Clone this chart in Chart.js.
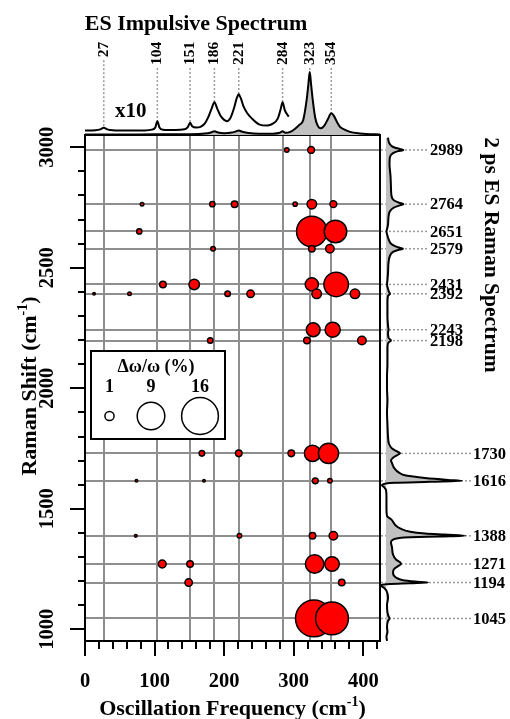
<!DOCTYPE html>
<html>
<head>
<meta charset="utf-8">
<script src="https://cdn.jsdelivr.net/npm/chart.js@4.4.1/dist/chart.umd.min.js"></script>
<style>
  html, body { margin: 0; padding: 0; background: #fff; }
  #wrap { position: relative; width: 510px; height: 719px; overflow: hidden; }
  #wrap canvas { position: absolute; left: 0; top: 0; }
</style>
</head>
<body>
<div id="wrap">
  <canvas id="mainCanvas" width="510" height="719"></canvas>
  <canvas id="topCanvas" width="510" height="719"></canvas>
  <canvas id="sideCanvas" width="510" height="719"></canvas>
</div>
<script>
// ---- band positions (cm-1) ----
const impulsivePeaks = [27, 104, 151, 186, 221, 284, 323, 354];
const ramanPeaks = [2989, 2764, 2651, 2579, 2431, 2392, 2243, 2198, 1730, 1616, 1388, 1271, 1194, 1045];

// ---- labelled axis values ----
const xTickValues = [0, 100, 200, 300, 400];
const yTickValues = [1000, 1500, 2000, 2500, 3000];

// ---- coupling map: Raman shift, oscillation frequency, modulation depth Δω/ω (%) ----
const bubbleShift = [
  2989, 2989,
  2764, 2764, 2764, 2764, 2764, 2764,
  2651, 2651, 2651,
  2579, 2579, 2579,
  2431, 2431, 2431, 2431,
  2392, 2392, 2392, 2392, 2392, 2392,
  2243, 2243,
  2198, 2198, 2198,
  1730, 1730, 1730, 1730, 1730,
  1616, 1616, 1616, 1616,
  1388, 1388, 1388, 1388,
  1271, 1271, 1271, 1271,
  1194, 1194,
  1045, 1045
];
const bubbleFreq = [
  290, 325,
  82, 183, 215, 302, 326, 357,
  78, 326, 360,
  184, 326, 352,
  112, 157, 326, 361,
  13, 64, 205, 238, 333, 388,
  328, 356,
  180, 319, 398,
  168, 221, 296.5, 327, 350,
  74, 171, 331, 352,
  73, 222, 327, 357,
  111, 151, 330, 355,
  149, 369,
  329, 355
];
const bubblePct = [
  0.24, 0.55,
  0.15, 0.32, 0.5, 0.21, 1.07, 0.55,
  0.32, 11.0, 6.0,
  0.24, 0.5, 0.85,
  0.5, 1.3, 2.05, 7.1,
  0.074, 0.15, 0.36, 0.66, 1.07, 1.07,
  2.25, 2.7,
  0.36, 0.5, 0.85,
  0.36, 0.5, 0.5, 3.1, 4.8,
  0.074, 0.074, 0.4, 0.24,
  0.09, 0.24, 0.5, 0.85,
  0.72, 0.5, 4.0, 2.5,
  0.66, 0.5,
  16.0, 12.7
];
const legendPct = [1, 9, 16];

// ---- ES impulsive spectrum (amplitude, arb. units) ----
const impFreq = [0, 50, 100, 150, 172, 181, 186, 191, 200, 211, 217, 221, 226, 235, 250, 270, 280, 284, 288,
  295, 302, 308, 313.7, 318.6, 321, 323, 325, 327.3, 330.6, 334, 338.7, 344, 349, 354, 358, 362, 366.5,
  373, 381, 395, 405, 424];
const impAmp = [0.008, 0.008, 0.01, 0.012, 0.022, 0.04, 0.06, 0.04, 0.028, 0.038, 0.058, 0.07, 0.052, 0.03, 0.018, 0.02, 0.035, 0.06, 0.035,
  0.05, 0.1, 0.16, 0.24, 0.56, 0.8, 1.0, 0.8, 0.56, 0.29, 0.16, 0.106, 0.15, 0.25, 0.345, 0.3, 0.21, 0.13,
  0.085, 0.05, 0.025, 0.016, 0.008];
// low-frequency part magnified x10 (displayed with its own offset baseline)
const impX10Freq = [0, 15, 22, 27, 32, 40, 60, 85, 96, 101, 104, 107, 112, 130, 143, 148, 151, 154, 160, 166,
  172, 177, 182, 186, 190, 195, 200, 204, 209, 214, 218, 221, 224, 228, 233, 240, 250, 262, 270, 277, 281,
  284, 287, 292.7];
const impX10Amp = [0.07, 0.075, 0.09, 0.115, 0.09, 0.075, 0.07, 0.072, 0.085, 0.12, 0.22, 0.12, 0.085, 0.08, 0.09, 0.13, 0.195, 0.14, 0.12, 0.13,
  0.18, 0.28, 0.42, 0.52, 0.42, 0.3, 0.24, 0.22, 0.27, 0.42, 0.58, 0.645, 0.58, 0.45, 0.35, 0.26, 0.17, 0.15, 0.18, 0.26, 0.4,
  0.52, 0.4, 0.29];

// ---- 2 ps ES Raman spectrum (intensity, arb. units) ----
const ramanShift = [952, 970, 990, 1010, 1035, 1045, 1055, 1070, 1100, 1130, 1160, 1172, 1180, 1185, 1188, 1191, 1194,
  1198, 1205, 1215, 1235, 1250, 1262, 1271, 1278, 1290, 1310, 1340, 1360, 1372, 1378, 1382, 1385, 1388, 1393,
  1398, 1405, 1419, 1430, 1455, 1470, 1500, 1550, 1578, 1590, 1598, 1604, 1608, 1612, 1616, 1620, 1628, 1638,
  1650, 1670, 1690, 1700, 1712, 1722, 1730, 1740, 1750, 1770, 1800, 1850, 1900, 1950, 2000, 2050, 2100, 2170,
  2190, 2198, 2210, 2230, 2243, 2260, 2300, 2360, 2384, 2392, 2400, 2420, 2431, 2450, 2480, 2520, 2550, 2566,
  2574, 2579, 2584, 2590, 2600, 2620, 2640, 2651, 2660, 2680, 2710, 2735, 2750, 2758, 2764, 2770, 2780, 2800,
  2830, 2880, 2930, 2960, 2976, 2984, 2989, 2994, 3000, 3008, 3020, 3040];
const ramanAmp = [0.013, 0.006, 0.019, 0.013, 0.026, 0.045, 0.032, 0.019, 0.013, 0.026, 0.006, -0.026, -0.058, -0.051, 0.051, 0.31, 0.538,
  0.372, 0.205, 0.128, 0.09, 0.103, 0.154, 0.192, 0.18, 0.128, 0.09, 0.077, 0.064, 0.09, 0.154, 0.31, 0.69, 1.013, 0.756,
  0.5, 0.31, 0.18, 0.128, 0.07, 0.013, 0.006, 0.006, 0.0, -0.026, -0.051, -0.013, 0.115, 0.564, 0.974, 0.795, 0.5, 0.256,
  0.167, 0.103, 0.077, 0.064, 0.09, 0.141, 0.18, 0.128, 0.077, 0.038, 0.026, 0.019, 0.013, 0.019, 0.013, 0.013, 0.019, 0.019,
  0.032, 0.064, 0.032, 0.026, 0.032, 0.026, 0.019, 0.019, 0.026, 0.051, 0.038, 0.019, 0.013, 0.019, 0.026, 0.032, 0.051, 0.09,
  0.154, 0.218, 0.167, 0.115, 0.064, 0.032, 0.013, 0.006, 0.013, 0.026, 0.032, 0.051, 0.10, 0.167, 0.224, 0.167, 0.10, 0.07,
  0.064, 0.058, 0.045, 0.051, 0.09, 0.154, 0.224, 0.167, 0.10, 0.064, 0.038, 0.026];

// ---- layout & style ----
const FONT = '"Liberation Serif", "Times New Roman", serif';
const X_MIN = 0, X_MAX = 424;
const Y_MIN = 951.5, Y_MAX = 3051;
const X_MAJOR = 100, X_MINOR = 20, Y_MAJOR = 500, Y_MINOR = 100;
const GRID = '#8e8e8e';
const DOTS = '#9a9a9a';
const FILL = '#c0c0c0';
const bubbleRadius = p => 4.6 * Math.sqrt(p);

function font(size) { return 'bold ' + size + 'px ' + FONT; }

// text made of runs with different sizes / vertical rise (for superscripts)
function drawRich(ctx, parts, cx, cy, angle) {
  ctx.save();
  ctx.translate(cx, cy);
  ctx.rotate(angle);
  ctx.textAlign = 'left';
  ctx.textBaseline = 'alphabetic';
  ctx.fillStyle = '#000';
  const widths = parts.map(([t, size]) => { ctx.font = font(size); return ctx.measureText(t).width; });
  let x = -widths.reduce((a, b) => a + b, 0) / 2;
  parts.forEach(([t, size, rise], i) => {
    ctx.font = font(size);
    ctx.fillText(t, x, rise);
    x += widths[i];
  });
  ctx.restore();
}

function ampAt(freqs, amps, v) {
  const i = freqs.indexOf(v);
  return i >= 0 ? amps[i] : null;
}

// frame, tick marks, titles, size legend and Raman band labels of the main panel
const mainDecor = {
  id: 'mainDecor',
  afterDatasetsDraw(chart) {
    const { ctx, chartArea: a, scales: { x, y } } = chart;
    ctx.save();

    // band labels on the right with dotted leaders
    ctx.font = font(16.5);
    ctx.textAlign = 'left';
    ctx.textBaseline = 'middle';
    ramanPeaks.forEach(v => {
      const py = y.getPixelForValue(v);
      const col = v > 2000 ? a.right + 50 : a.right + 93;
      ctx.strokeStyle = DOTS;
      ctx.lineWidth = 1.5;
      ctx.setLineDash([2, 2]);
      ctx.beginPath();
      ctx.moveTo(a.right + 1, py);
      ctx.lineTo(col - 2, py);
      ctx.stroke();
      ctx.setLineDash([]);
      ctx.fillStyle = '#000';
      ctx.fillText(String(v), col, py + 1);
    });

    // bubble size legend
    const L = { x: a.left + 6, y: a.top + 216, w: 134, h: 88 };
    ctx.fillStyle = '#fff';
    ctx.fillRect(L.x, L.y, L.w, L.h);
    ctx.strokeStyle = '#000';
    ctx.lineWidth = 2;
    ctx.strokeRect(L.x, L.y, L.w, L.h);
    drawRich(ctx, [['Δω/ω (%)', 18, 0]], L.x + 65, L.y + 21, 0);
    const cols = [L.x + 18.5, L.x + 60, L.x + 109];
    ctx.font = font(18);
    ctx.textAlign = 'center';
    ctx.textBaseline = 'alphabetic';
    ctx.fillStyle = '#000';
    legendPct.forEach((p, i) => {
      ctx.fillText(String(p), cols[i], L.y + 40.5);
      ctx.beginPath();
      ctx.arc(cols[i], L.y + 65, bubbleRadius(p), 0, Math.PI * 2);
      ctx.fillStyle = '#fff';
      ctx.fill();
      ctx.lineWidth = 1.5;
      ctx.strokeStyle = '#000';
      ctx.stroke();
      ctx.fillStyle = '#000';
    });

    // frame
    ctx.strokeStyle = '#000';
    ctx.lineWidth = 2;
    ctx.strokeRect(a.left, a.top, a.right - a.left, a.bottom - a.top);

    // tick marks (long at labelled values)
    ctx.beginPath();
    for (let v = Math.ceil(Y_MIN / Y_MINOR) * Y_MINOR; v <= Y_MAX; v += Y_MINOR) {
      const py = Math.round(y.getPixelForValue(v));
      const len = v % Y_MAJOR === 0 ? 15 : 7;
      ctx.moveTo(a.left - len, py);
      ctx.lineTo(a.left, py);
    }
    for (let v = X_MIN; v <= X_MAX; v += X_MINOR) {
      const px = Math.round(x.getPixelForValue(v));
      const len = v % X_MAJOR === 0 ? 15 : 8;
      ctx.moveTo(px, a.bottom);
      ctx.lineTo(px, a.bottom + len);
    }
    ctx.stroke();

    // axis and panel titles
    drawRich(ctx, [['Oscillation Frequency (cm', 22, 0], ['-1', 14, -9], [')', 22, 0]],
      (a.left + a.right) / 2, 715, 0);
    drawRich(ctx, [['Raman Shift (cm', 22, 0], ['-1', 14, -9], [')', 22, 0]],
      35.5, (a.top + a.bottom) / 2 - 2, -Math.PI / 2);
    drawRich(ctx, [['ES Impulsive Spectrum', 22, 0]], 196, 29.5, 0);
    drawRich(ctx, [['2 ps ES Raman Spectrum', 21.5, 0]], 485, 255, Math.PI / 2);

    ctx.restore();
  }
};

// peak labels, leaders and magnification note of the impulsive spectrum
const LABEL_TOP = 41.7;
const topDecor = {
  id: 'topDecor',
  beforeDatasetsDraw(chart) {
    const { ctx, scales: { x, y } } = chart;
    ctx.save();
    ctx.font = font(15.5);
    ctx.strokeStyle = DOTS;
    ctx.lineWidth = 1.5;
    ctx.setLineDash([2, 2]);
    const lastX10 = impX10Freq[impX10Freq.length - 1];
    impulsivePeaks.forEach(v => {
      const px = x.getPixelForValue(v);
      const w = ctx.measureText(String(v)).width;
      const amp = v <= lastX10 ? ampAt(impX10Freq, impX10Amp, v) : ampAt(impFreq, impAmp, v);
      const y1 = LABEL_TOP + w + 3;
      const y2 = y.getPixelForValue(amp);
      if (y2 > y1) {
        ctx.beginPath();
        ctx.moveTo(px, y1);
        ctx.lineTo(px, y2);
        ctx.stroke();
      }
    });
    ctx.restore();
  },
  afterDatasetsDraw(chart) {
    const { ctx, scales: { x } } = chart;
    ctx.save();
    ctx.fillStyle = '#000';
    ctx.font = font(15.5);
    ctx.textAlign = 'right';
    ctx.textBaseline = 'middle';
    impulsivePeaks.forEach(v => {
      ctx.save();
      ctx.translate(x.getPixelForValue(v), LABEL_TOP);
      ctx.rotate(-Math.PI / 2);
      ctx.fillText(String(v), 0, 0);
      ctx.restore();
    });
    ctx.font = font(21);
    ctx.textAlign = 'left';
    ctx.textBaseline = 'alphabetic';
    ctx.fillText('x10', 115, 117);
    ctx.restore();
  }
};

const quiet = { legend: { display: false }, tooltip: { enabled: false } };
const tickFont = { family: FONT, size: 20.5, weight: 'bold' };

function build() {
  Chart.defaults.font.family = FONT;
  Chart.defaults.color = '#000';

  // main coupling map
  new Chart(document.getElementById('mainCanvas'), {
    type: 'bubble',
    data: {
      datasets: [{
        data: bubbleFreq.map((f, i) => ({ x: f, y: bubbleShift[i], r: bubbleRadius(bubblePct[i]) })),
        backgroundColor: '#ff0000',
        borderColor: '#000',
        borderWidth: 1.5,
        clip: false
      }]
    },
    options: {
      responsive: false,
      animation: false,
      events: [],
      layout: { autoPadding: false, padding: { left: 0, top: 135, right: 130, bottom: 0 } },
      plugins: quiet,
      scales: {
        x: {
          type: 'linear', position: 'bottom', min: X_MIN, max: X_MAX,
          afterBuildTicks: s => { s.ticks = xTickValues.map(v => ({ value: v })); },
          ticks: { color: '#000', font: tickFont, padding: 13, minRotation: 0, maxRotation: 0,
                   autoSkip: false, callback: v => String(v) },
          grid: { display: false, drawTicks: true, tickLength: 15 },
          border: { display: false },
          afterFit: s => { s.height = 78; }
        },
        y: {
          type: 'linear', position: 'left', min: Y_MIN, max: Y_MAX,
          afterBuildTicks: s => { s.ticks = yTickValues.map(v => ({ value: v })); },
          ticks: { color: '#000', font: tickFont, padding: 2, minRotation: 90, maxRotation: 90,
                   crossAlign: 'center', autoSkip: false, callback: v => String(v) },
          grid: { display: false, drawTicks: true, tickLength: 15 },
          border: { display: false },
          afterFit: s => { s.width = 85; }
        },
        xg: {
          type: 'linear', position: 'bottom', min: X_MIN, max: X_MAX,
          afterBuildTicks: s => { s.ticks = impulsivePeaks.map(v => ({ value: v })); },
          ticks: { display: false },
          grid: { color: GRID, lineWidth: 2, drawTicks: false },
          border: { display: false },
          afterFit: s => { s.height = 0; }
        },
        yg: {
          type: 'linear', position: 'left', min: Y_MIN, max: Y_MAX,
          afterBuildTicks: s => { s.ticks = ramanPeaks.map(v => ({ value: v })); },
          ticks: { display: false },
          grid: { color: GRID, lineWidth: 2, drawTicks: false },
          border: { display: false },
          afterFit: s => { s.width = 0; }
        }
      }
    },
    plugins: [mainDecor]
  });

  // impulsive spectrum above the map
  new Chart(document.getElementById('topCanvas'), {
    type: 'line',
    data: {
      datasets: [
        {
          data: impX10Freq.map((f, i) => ({ x: f, y: impX10Amp[i] })),
          borderColor: '#000', borderWidth: 2, pointRadius: 0, fill: false,
          cubicInterpolationMode: 'monotone'
        },
        {
          data: impFreq.map((f, i) => ({ x: f, y: impAmp[i] })),
          borderColor: '#000', borderWidth: 2, pointRadius: 0,
          fill: 'origin', backgroundColor: FILL,
          cubicInterpolationMode: 'monotone'
        }
      ]
    },
    options: {
      responsive: false,
      animation: false,
      events: [],
      layout: { autoPadding: false, padding: { left: 85, top: 40, right: 130, bottom: 584 } },
      plugins: quiet,
      scales: {
        x: { type: 'linear', display: false, min: X_MIN, max: X_MAX },
        y: { type: 'linear', display: false, min: 0, max: 1.508 }
      }
    },
    plugins: [topDecor]
  });

  // Raman spectrum on the right, shift running vertically
  new Chart(document.getElementById('sideCanvas'), {
    type: 'line',
    data: {
      datasets: [{
        data: ramanShift.map((s, i) => ({ x: ramanAmp[i], y: s })),
        borderColor: '#000', borderWidth: 2, pointRadius: 0,
        fill: 'origin', backgroundColor: FILL,
        cubicInterpolationMode: 'monotone'
      }]
    },
    options: {
      indexAxis: 'y',
      responsive: false,
      animation: false,
      events: [],
      layout: { autoPadding: false, padding: { left: 380, top: 135, right: 0, bottom: 78 } },
      plugins: quiet,
      scales: {
        x: { type: 'linear', display: false, min: -0.0769, max: 1.5897 },
        y: { type: 'linear', display: false, min: Y_MIN, max: Y_MAX }
      }
    }
  });
}

if (document.fonts && document.fonts.load) {
  document.fonts.load(font(20)).then(build, build);
} else {
  build();
}
</script>
</body>
</html>
